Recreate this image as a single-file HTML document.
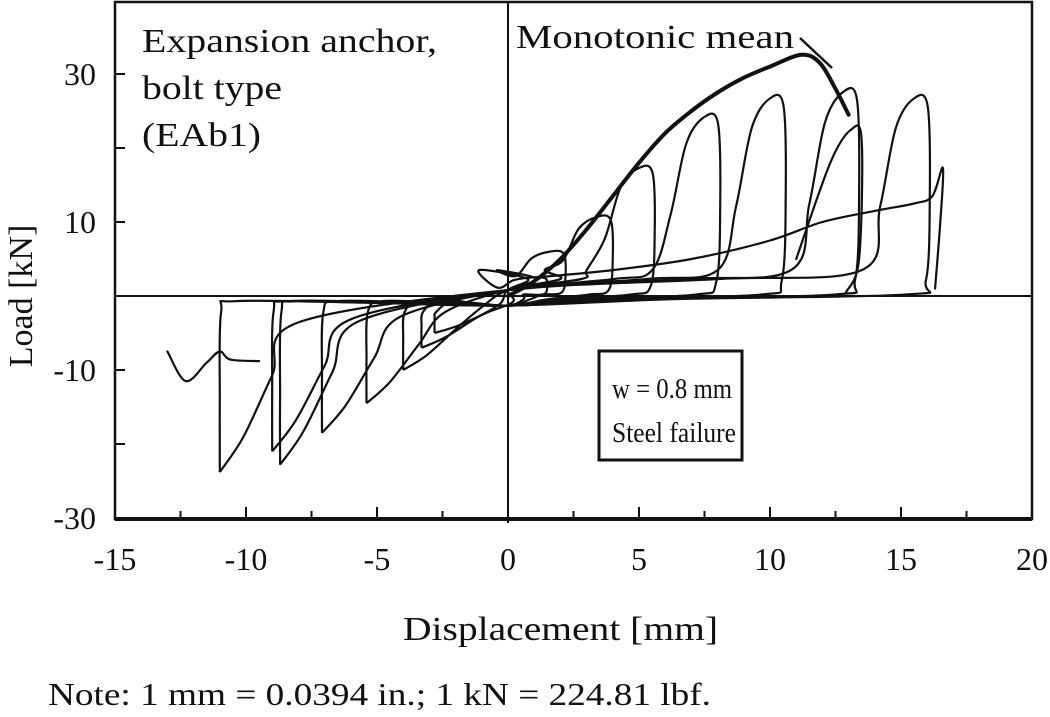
<!DOCTYPE html>
<html><head><meta charset="utf-8"><style>
body{margin:0;background:#fff;}
svg text{font-family:"Liberation Serif",serif;fill:#111;}
</style></head><body>
<svg id="chart" width="1050" height="717" viewBox="0 0 1050 717" style="position:absolute;left:0;top:0">
<g id="axes"></g><g id="marks"></g>
</svg>
<script>
const xTicks=[-15,-10,-5,0,5,10,15,20];
const yTicks=[30,10,-10,-30];
const xPosPeaks=[1.5,2.2,4.0,5.6,8.1,10.6,13.4,16.1];
const fPosPeaks=[2.5,6,10.7,17.3,24.2,26.7,27.6,26.7];
const xNegPeaks=[-2.8,-3.3,-4.0,-5.4,-7.1,-8.7,-9.0,-11.0];
const fNegPeaks=[-5,-7,-10,-14.5,-18.5,-22.8,-21,-23.8];
const monoX=[0,1,2,3,4,5,6,7,8,9,10,11.2,11.9,12.5,13.0];
const monoF=[0,2,5,9,13.5,18,22,25,27.5,29.5,31,32.6,31.5,28,24.5];
const tailX=[-9.5,-10.6,-11,-11.5,-12.3,-13];
const tailF=[-8.8,-8.6,-7.5,-9,-11.5,-7.5];
const lastX=[1,4,7,10,12,14,15.5,16.2,16.6,16.5,16.3];
const lastF=[2.5,3.5,5,7.5,10,11.5,12.5,13.5,17.3,10,1];
const secX=[11,12.3,13.1,13.5,13.4,12.9];
const secF=[5,18,22.5,21,5,0.5];

const NS="http://www.w3.org/2000/svg";
const L=115,R=1032,T=2,B=519;
const X=v=>L+(v+15)/35*(R-L);
const Y=v=>296-v*7.4;
const ax=document.getElementById('axes'), mk=document.getElementById('marks');
function el(tag,attrs,parent){const e=document.createElementNS(NS,tag);for(const k in attrs)e.setAttribute(k,attrs[k]);parent.appendChild(e);return e;}
function smooth(pts){let d="M"+pts[0][0].toFixed(1)+","+pts[0][1].toFixed(1);
 for(let i=0;i<pts.length-1;i++){const p0=pts[Math.max(0,i-1)],p1=pts[i],p2=pts[i+1],p3=pts[Math.min(pts.length-1,i+2)];
 const c1=[p1[0]+(p2[0]-p0[0])/6,p1[1]+(p2[1]-p0[1])/6],c2=[p2[0]-(p3[0]-p1[0])/6,p2[1]-(p3[1]-p1[1])/6];
 d+=" C"+c1[0].toFixed(1)+","+c1[1].toFixed(1)+" "+c2[0].toFixed(1)+","+c2[1].toFixed(1)+" "+p2[0].toFixed(1)+","+p2[1].toFixed(1);}
 return d;}
let f=el('rect',{x:L,y:T,width:R-L,height:B-T,fill:'none',stroke:'#111','stroke-width':2.5},ax);

let a=el('line',{x1:L,y1:B,x2:R,y2:B,stroke:'#111','stroke-width':4},ax);

let z=el('line',{x1:X(0),y1:T,x2:X(0),y2:B+4,stroke:'#111','stroke-width':2},ax);

let zy=el('line',{x1:L,y1:Y(0),x2:R,y2:Y(0),stroke:'#111','stroke-width':2},ax);

for(let v=-12.5;v<20;v+=2.5){let t=el('line',{x1:X(v),y1:B,x2:X(v),y2:B-(v%5===0?12:8),stroke:'#111','stroke-width':2},ax);
 }
for(let v=-20;v<=30;v+=10){let t=el('line',{x1:L,y1:Y(v),x2:L+10,y2:Y(v),stroke:'#111','stroke-width':2},ax);
 }
xTicks.forEach(v=>{let t=el('text',{x:X(v),y:570,'font-size':32,'text-anchor':'middle'},ax);t.textContent=v;
 });
yTicks.forEach(v=>{let t=el('text',{x:96,y:Y(v)+11,'font-size':32,'text-anchor':'end'},ax);t.textContent=v;
 });
for(let i=0;i<xPosPeaks.length;i++){
 const xp=xPosPeaks[i],fp=fPosPeaks[i],xn=xNegPeaks[i],fn=fNegPeaks[i];
 const pts=[[xn,fn],[xn+0.9,fn*0.8],[xn+2,fn*0.45],[xn+3,fn*0.15],[0,0.8],[xp*0.5,2.3],[xp-2.6,3.5],[xp-1.9,fp*0.45],[xp-1.3,fp*0.85],[xp-0.6,fp],[xp-0.08,fp*0.96],[xp,fp*0.5],[xp-0.15,fp*0.08],[xp-0.9,0.2],[xp*0.4,-0.4],[0,-1.3],[xn*0.5,-0.9],[xn+0.6,-0.7],[xn+0.05,-2.2],[xn,fn*0.6],[xn,fn]];
 let p=el('path',{d:smooth(pts.map(q=>[X(q[0]),Y(q[1])])),fill:'none',stroke:'#111','stroke-width':2.2},mk);
 }
function line(xs,fs,name,w){let p=el('path',{d:smooth(xs.map((x,i)=>[X(x),Y(fs[i])])),fill:'none',stroke:'#111','stroke-width':w,'stroke-linecap':'round'},mk);
 }
line(tailX,tailF,'failure-tail',2.2);
line(lastX,lastF,'final-cycle',2.2);
line(secX,secF,'second-cycle',2.2);
line(monoX,monoF,'monotonic-mean-curve',4);
let ld=el('line',{x1:800,y1:38,x2:832,y2:68,stroke:'#111','stroke-width':2.5},mk);

</script>
<svg width="1050" height="717" style="position:absolute;left:0;top:0">
<text x="142" y="52" font-size="34" textLength="295" lengthAdjust="spacingAndGlyphs">Expansion anchor,</text>
<text x="142" y="99" font-size="34" textLength="140" lengthAdjust="spacingAndGlyphs">bolt type</text>
<text x="142" y="146" font-size="34" textLength="119" lengthAdjust="spacingAndGlyphs">(EAb1)</text>
<text x="516" y="48" font-size="34" textLength="278" lengthAdjust="spacingAndGlyphs">Monotonic mean</text>
<rect x="599" y="351" width="143" height="109" fill="#fff" stroke="#111" stroke-width="3"/>
<text x="612" y="398" font-size="29" textLength="120" lengthAdjust="spacingAndGlyphs">w = 0.8 mm</text>
<text x="612" y="442" font-size="29" textLength="124" lengthAdjust="spacingAndGlyphs">Steel failure</text>
<text x="403" y="640" font-size="34" textLength="315" lengthAdjust="spacingAndGlyphs">Displacement [mm]</text>
<text transform="translate(32,296) rotate(-90)" font-size="34" text-anchor="middle">Load [kN]</text>
<text x="48" y="705" font-size="32" textLength="663" lengthAdjust="spacingAndGlyphs">Note: 1 mm = 0.0394 in.; 1 kN = 224.81 lbf.</text>
</svg>
</body></html>
